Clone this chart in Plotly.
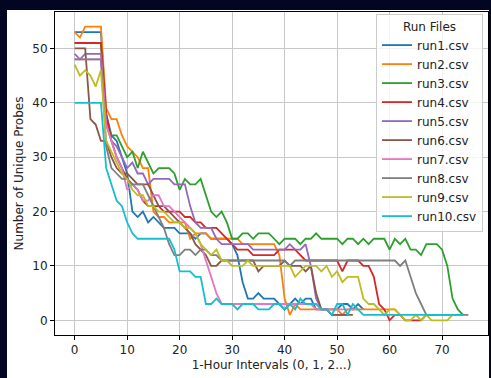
import plotly.graph_objects as go

run1 = [53,53,53,53,53,53,38,34,33,30,27,20,19,20,18,19,18,17,17,17,16,16,16,15,16,16,15,15,15,15,14,12,7,4,4,5,4,4,4,3,2,3,4,3,4,4,2,2,2,2,2,3,3,2,3,2]
run2 = [53,52,54,54,54,54,39,37,37,34,32,31,30,28,28,20,19,19,18,18,18,18,15,16,16,16,15,15,15,15,15,15,14,14,14,14,14,14,14,12,4,1,3,2,2,2,2,2,2,2,2,1,2,2,2,2,2,2,2,2,2,2,1]
run3 = [51,51,51,51,51,51,37,34,34,32,30,31,28,31,29,27,28,28,28,27,24,26,25,25,26,23,20,19,20,18,15,15,16,16,15,16,16,16,15,14,15,15,15,14,15,15,16,15,15,15,15,14,15,15,14,15,14,15,15,15,13,15,14,15,13,13,12,14,14,14,13,10,4,2,1]
run4 = [51,51,51,51,51,51,38,33,30,28,26,25,24,22,21,21,21,20,20,20,20,19,19,18,18,17,17,17,16,15,14,13,13,13,12,12,12,12,12,13,13,13,13,12,11,11,11,11,11,11,11,9,11,11,11,10,10,8,3,2,0,1,1,0,0,0,0,1,1,1]
run5 = [49,48,49,49,49,49,36,33,32,30,28,29,27,27,25,26,26,26,26,25,25,25,21,18,17,17,17,15,14,14,14,14,14,14,13,13,13,13,13,13,13,14,13,13,14,10,4,2,2,1,1,1,1]
run6 = [50,50,50,37,36,33,33,30,28,27,27,26,25,25,25,23,21,21,20,19,18,17,16,14,13,12,10,10,11,11,11,11,11,11,11,9,10,10,10,10,11,10,10,10,9,10,5,2,2,1,1,1,1,1]
run7 = [48,48,48,48,48,48,36,33,30,28,24,25,24,22,22,23,23,21,21,20,19,18,17,16,14,11,8,5,3,3,3,3,3,3,3,3,3,3,3,3,3,3,3,3,3,3,2,2,2,2,2,2,2,2,2]
run8 = [48,48,48,48,48,48,32,28,27,26,26,25,25,25,23,21,19,17,14,12,12,13,13,12,13,13,12,12,11,11,11,11,11,11,11,11,11,11,11,11,11,10,11,11,11,11,11,11,11,11,11,11,11,11,11,11,11,11,11,11,11,11,10,11,8,5,3,1,1,1,1,1,1,1,1,1]
run9 = [47,45,46,45,43,46,33,31,29,27,26,24,23,23,21,21,20,20,19,18,18,17,17,16,14,13,12,13,11,11,10,10,10,11,10,10,10,10,10,10,10,10,8,9,10,10,10,9,10,8,9,7,8,8,8,4,3,3,2,1,2,2,1,0,0,1,0,1,0,0,0,0,1]
run10 = [40,40,40,40,40,40,28,25,22,21,18,16,15,15,15,15,15,15,15,13,9,9,9,8,8,3,3,4,3,3,3,2,3,3,3,2,2,2,3,3,2,3,2,4,3,3,3,2,2,1,3,3,1,3,2,1,1,1,1,1,1,1,1,1,1,1,1,1,1,1,1,1,1,1,1]

names = ["run1.csv","run2.csv","run3.csv","run4.csv","run5.csv","run6.csv","run7.csv","run8.csv","run9.csv","run10.csv"]
series = [run1, run2, run3, run4, run5, run6, run7, run8, run9, run10]
colors = ["#1f77b4","#ff7f0e","#2ca02c","#d62728","#9467bd","#8c564b","#e377c2","#7f7f7f","#bcbd22","#17becf"]

fig = go.Figure()
for name, vals, col in zip(names, series, colors):
    fig.add_trace(go.Scatter(x=list(range(len(vals))), y=vals, mode="lines", name=name,
                             line=dict(color=col, width=1.8)))

W, H = 491, 378
L, R, T, B = 55, 3, 12, 43
pw, ph = W - L - R, H - T - B

def px_x(p):
    return (p - L) / pw

def px_y(p):
    return (H - B - p) / ph

fig.add_shape(type="rect", xref="paper", yref="paper",
              x0=px_x(7), x1=px_x(489), y0=px_y(400), y1=px_y(10),
              fillcolor="white", line=dict(width=0), layer="below")

axis_common = dict(showgrid=True, gridcolor="#c8c8c8", gridwidth=1, showline=True,
                   linecolor="black", linewidth=1, mirror=True, ticks="outside",
                   ticklen=4, tickcolor="black", zeroline=False,
                   tickfont=dict(size=12, color="#222"))

fig.update_layout(
    width=W, height=H,
    margin=dict(l=L, r=R, t=T, b=B),
    paper_bgcolor="#030622",
    plot_bgcolor="white",
    font=dict(family="DejaVu Sans", size=12, color="#222"),
    xaxis=dict(range=[-3.75, 78.75], tickvals=[0,10,20,30,40,50,60,70],
               title=dict(text="1-Hour Intervals (0, 1, 2...)", standoff=4, font=dict(size=12)),
               **axis_common),
    yaxis=dict(range=[-2.7, 56.7], tickvals=[0,10,20,30,40,50],
               title=dict(text="Number of Unique Probes", standoff=6, font=dict(size=12)),
               **axis_common),
    legend=dict(x=px_x(483), y=px_y(14), xanchor="right", yanchor="top",
                bgcolor="rgba(255,255,255,0.8)", bordercolor="#cccccc", borderwidth=1,
                font=dict(size=12, color="#222"),
                title=dict(text="Run Files", side="top center", font=dict(size=12))),
    showlegend=True,
)

fig.write_html("out.html",
               config={"displayModeBar": False},
               post_script="document.body.style.margin='0';document.body.style.background='#030622';document.documentElement.style.overflow='hidden';")
